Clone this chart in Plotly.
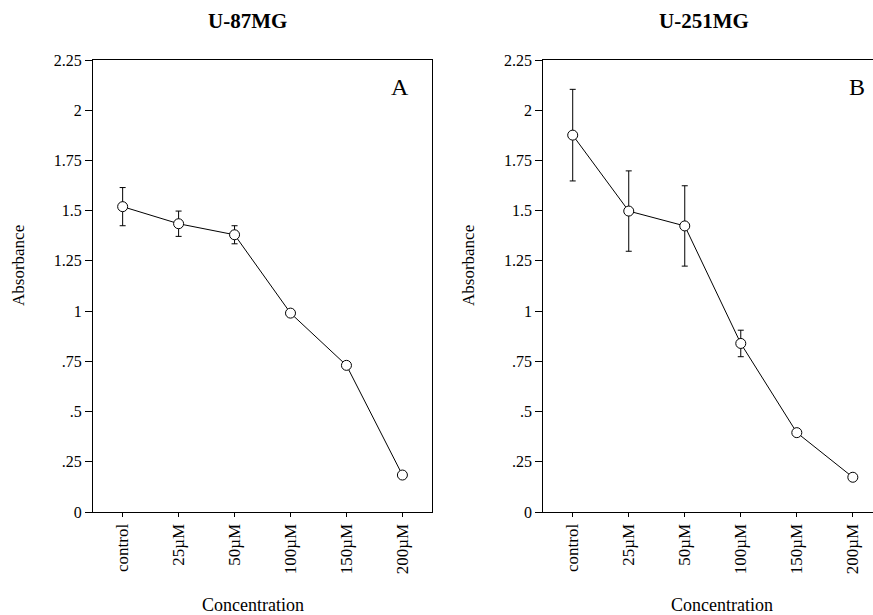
import plotly.graph_objects as go

categories = ["control", "25µM", "50µM", "100µM", "150µM", "200µM"]
u87_values = [1.52, 1.435, 1.38, 0.99, 0.73, 0.184]
u87_errors = [0.095, 0.063, 0.045, 0.0, 0.0, 0.0]
u251_values = [1.876, 1.498, 1.424, 0.839, 0.395, 0.173]
u251_errors = [0.228, 0.2, 0.2, 0.066, 0.0, 0.0]
y_ticks = [0, 0.25, 0.5, 0.75, 1, 1.25, 1.5, 1.75, 2, 2.25]
y_tick_labels = ["0", ".25", ".5", ".75", "1", "1.25", "1.5", "1.75", "2", "2.25"]

W, H = 873, 615
FONT = "Liberation Serif"

fig = go.Figure()
marker = dict(symbol="circle", size=10, color="white", line=dict(color="black", width=1))
fig.add_trace(go.Scatter(
    x=categories, y=u87_values, mode="lines+markers",
    line=dict(color="black", width=1), marker=marker,
    error_y=dict(type="data", array=u87_errors, visible=True, color="black", thickness=1, width=3),
    xaxis="x", yaxis="y", showlegend=False))
fig.add_trace(go.Scatter(
    x=categories, y=u251_values, mode="lines+markers",
    line=dict(color="black", width=1), marker=marker,
    error_y=dict(type="data", array=u251_errors, visible=True, color="black", thickness=1, width=3),
    xaxis="x2", yaxis="y2", showlegend=False))

ydom = [(H - 512) / H, (H - 60) / H]
common_x = dict(type="category", categoryorder="array", categoryarray=categories,
                tickangle=-90, ticks="outside", ticklen=4, tickcolor="black", automargin=False,
                showline=True, linecolor="black", linewidth=1, showgrid=False, zeroline=False,
                tickfont=dict(family=FONT, size=17, color="black"))
common_y = dict(range=[0, 2.25], tickvals=y_ticks, ticktext=y_tick_labels,
                ticks="outside", ticklen=7, tickcolor="black", automargin=False,
                showline=True, linecolor="black", linewidth=1, showgrid=False, zeroline=False,
                tickfont=dict(family=FONT, size=16, color="black"))

fig.update_layout(
    template="none",
    width=W, height=H, autosize=False,
    margin=dict(l=0, r=0, t=0, b=0, pad=0),
    paper_bgcolor="white", plot_bgcolor="white",
    font=dict(family=FONT, color="black"),
    xaxis=dict(domain=[93 / W, 431.5 / W], range=[-0.53, 5.52], anchor="y", mirror=True, **common_x),
    yaxis=dict(domain=ydom, anchor="x", mirror=True, **common_y),
    xaxis2=dict(domain=[543.3 / W, 1.0], range=[-0.525, 5.36], anchor="y2", mirror=True, **common_x),
    yaxis2=dict(domain=ydom, anchor="x2", mirror=False, **common_y),
)

def ann(text, x, y, size, bold=False, angle=0):
    fig.add_annotation(text=f"<b>{text}</b>" if bold else text,
                       x=x / W, y=1 - y / H, xref="paper", yref="paper",
                       showarrow=False, textangle=angle,
                       font=dict(family=FONT, size=size, color="black"),
                       xanchor="center", yanchor="middle")

ann("U-87MG", 247, 21, 21, bold=True)
ann("U-251MG", 704, 21, 21, bold=True)
ann("A", 400, 87, 24)
ann("B", 857, 87, 24)
ann("Absorbance", 18, 266, 17, angle=-90)
ann("Absorbance", 468, 266, 17, angle=-90)
ann("Concentration", 253, 605, 18)
ann("Concentration", 722, 605, 18)

fig.write_html("out.html", config={"displayModeBar": False},
               post_script="document.body.style.margin='0';document.body.style.padding='0';document.body.style.overflow='hidden';")
